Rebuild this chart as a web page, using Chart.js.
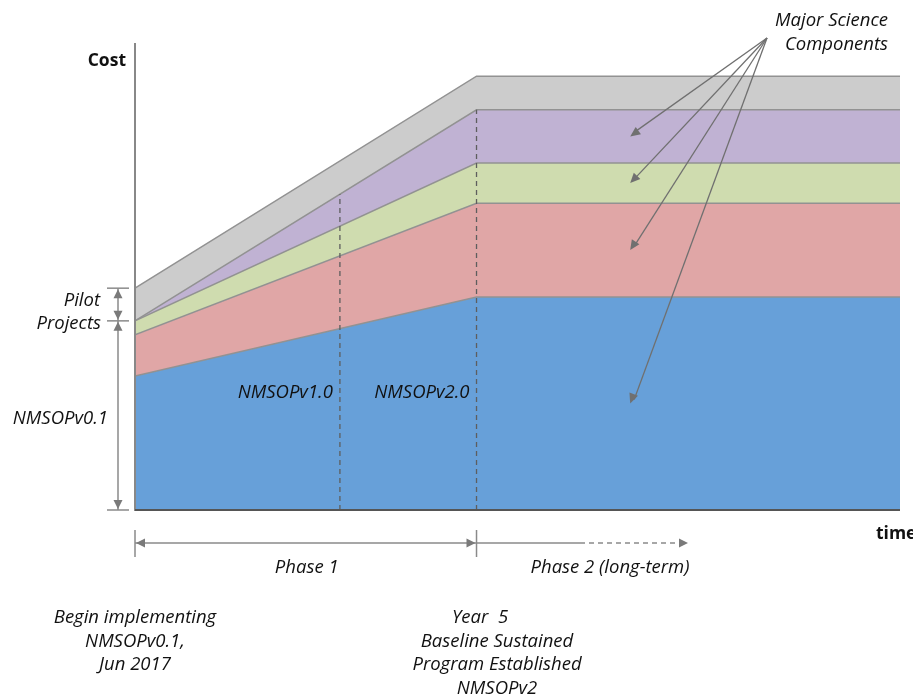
<!DOCTYPE html>
<html>
<head>
<meta charset="utf-8">
<script src="https://cdn.jsdelivr.net/npm/chart.js@4.4.1/dist/chart.umd.min.js"></script>
<style>
  body { margin: 0; background: #fff; }
  #wrap { width: 913px; height: 698px; }
</style>
</head>
<body>
<div id="wrap"><canvas id="costChart" width="913" height="698"></canvas></div>
<script>
// DATA (cost in arbitrary units, time in years from Jun 2017)
var timeYears      = [0, 5, 11.2];
var baseProgram    = [28.7, 45.6, 45.6];   // NMSOPv0.1 base (blue)
var scienceRed     = [8.8, 20.1, 20.1];
var scienceGreen   = [3.0, 8.6, 8.6];
var sciencePurple  = [0, 11.4, 11.4];
var pilotProjects  = [7.0, 7.2, 7.2];      // grey
var milestoneYears = [3, 5];               // NMSOPv1.0, NMSOPv2.0
var milestoneNames = ["NMSOPv1.0", "NMSOPv2.0"];
var arrowYear      = 7.25;                 // where the "Major Science Components" arrows land

var seriesList  = [baseProgram, scienceRed, scienceGreen, sciencePurple, pilotProjects];
var seriesNames = ["NMSOPv0.1", "Science 1", "Science 2", "Science 3", "Pilot Projects"];
var seriesFill  = ['#67a0d9', '#e0a6a6', '#cfdcaf', '#c0b2d3', '#cccccc'];

function pts(arr) {
    return arr.map(function(v, i) { return {x: timeYears[i], y: v}; });
}

// value of the stack top (first n series) at a given year
function stackAt(n, year) {
    var tot = 0;
    for (var s = 0; s < n; s++) {
        var a = seriesList[s], v = a[a.length - 1];
        for (var i = 0; i < timeYears.length - 1; i++) {
            if (year >= timeYears[i] && year <= timeYears[i + 1]) {
                var f = (year - timeYears[i]) / (timeYears[i + 1] - timeYears[i]);
                v = a[i] + f * (a[i + 1] - a[i]);
                break;
            }
        }
        tot += v;
    }
    return tot;
}

function arrowHead(ctx, x1, y1, x2, y2, len, half) {
    var ang = Math.atan2(y2 - y1, x2 - x1);
    ctx.beginPath();
    ctx.moveTo(x2, y2);
    ctx.lineTo(x2 - len * Math.cos(ang) + half * Math.sin(ang), y2 - len * Math.sin(ang) - half * Math.cos(ang));
    ctx.lineTo(x2 - len * Math.cos(ang) - half * Math.sin(ang), y2 - len * Math.sin(ang) + half * Math.cos(ang));
    ctx.closePath();
    ctx.fill();
}

function line(ctx, x1, y1, x2, y2) {
    ctx.beginPath();
    ctx.moveTo(x1, y1);
    ctx.lineTo(x2, y2);
    ctx.stroke();
}

var ITAL = 'italic 18.5px "Open Sans"';
var BOLD = 'bold 17.5px "Open Sans"';

var decorations = {
    id: 'decorations',
    afterDatasetsDraw: function(chart) {
        var ctx = chart.ctx;
        var xs = chart.scales.x, ys = chart.scales.y;
        var area = chart.chartArea;
        var x0 = xs.getPixelForValue(0);
        var x5 = xs.getPixelForValue(5);
        var yb = ys.getPixelForValue(0);

        ctx.save();
        // milestone dashed lines
        ctx.strokeStyle = '#5e5e5e';
        ctx.lineWidth = 1.3;
        ctx.setLineDash([5, 4]);
        milestoneYears.forEach(function(yr) {
            var px = xs.getPixelForValue(yr);
            line(ctx, px, yb, px, ys.getPixelForValue(stackAt(4, yr)));
        });
        ctx.setLineDash([]);

        // axes
        ctx.strokeStyle = '#888';
        ctx.lineWidth = 2;
        line(ctx, x0, area.top, x0, yb + 1);
        ctx.strokeStyle = '#555';
        line(ctx, x0, yb, area.right, yb);

        // dimension arrows on the left
        var ax = 118;
        var yPilotTop = ys.getPixelForValue(stackAt(5, 0));
        var yPilotBot = ys.getPixelForValue(stackAt(4, 0));
        ctx.strokeStyle = '#8a8a8a';
        ctx.fillStyle = '#7a7a7a';
        ctx.lineWidth = 1.5;
        [yPilotTop, yPilotBot, yb].forEach(function(y) { line(ctx, 107, y, 129, y); });
        line(ctx, ax, yPilotTop, ax, yPilotBot);
        line(ctx, ax, yPilotBot, ax, yb);
        arrowHead(ctx, ax, yPilotBot, ax, yPilotTop + 1, 9, 4.5);
        arrowHead(ctx, ax, yPilotTop, ax, yPilotBot - 1, 9, 4.5);
        arrowHead(ctx, ax, yb, ax, yPilotBot + 1, 9, 4.5);
        arrowHead(ctx, ax, yPilotBot, ax, yb - 1, 9, 4.5);

        // phase arrows
        var py = 543;
        line(ctx, x0, 530, x0, 557);
        line(ctx, x5, 530, x5, 557);
        line(ctx, x0, py, x5, py);
        arrowHead(ctx, x5, py, x0 + 1, py, 9, 4.5);
        arrowHead(ctx, x0, py, x5 - 1, py, 9, 4.5);
        line(ctx, x5, py, 580, py);
        ctx.setLineDash([5, 4]);
        line(ctx, 580, py, 680, py);
        ctx.setLineDash([]);
        arrowHead(ctx, 600, py, 688, py, 9, 4.5);

        // major science component arrows
        var ox = 767, oy = 38;
        var tx = xs.getPixelForValue(arrowYear);
        ctx.strokeStyle = '#707070';
        ctx.fillStyle = '#707070';
        ctx.lineWidth = 1.3;
        for (var s = 1; s <= 4; s++) {
            var mid = (stackAt(s - 1, arrowYear) + stackAt(s, arrowYear)) / 2;
            var ty = ys.getPixelForValue(mid);
            line(ctx, ox, oy, tx + 4, ty - 4);
            arrowHead(ctx, ox, oy, tx, ty, 10, 4.5);
        }

        // texts
        ctx.fillStyle = '#111';
        ctx.textBaseline = 'middle';
        ctx.font = BOLD;
        ctx.textAlign = 'right';
        ctx.fillText('Cost', 126, 61);
        ctx.textAlign = 'left';
        ctx.fillText('time', 876, 534);

        ctx.font = ITAL;
        ctx.textAlign = 'right';
        ctx.fillText('Pilot', 100, 301);
        ctx.fillText('Projects', 101, 324);
        ctx.fillText(seriesNames[0], 108, 419);
        ctx.fillText('Major Science', 888, 21);
        ctx.fillText('Components', 888, 45);
        milestoneYears.forEach(function(yr, i) {
            ctx.fillText(milestoneNames[i], xs.getPixelForValue(yr) - 7, 393);
        });

        ctx.textAlign = 'center';
        ctx.fillText('Phase 1', (x0 + x5) / 2 + 1, 568);
        ctx.fillText('Phase 2 (long-term)', 610, 568);

        ['Begin implementing', 'NMSOPv0.1,', 'Jun 2017'].forEach(function(t, i) {
            ctx.fillText(t, 135, 618 + i * 23.5);
        });
        ['Year  5', 'Baseline Sustained', 'Program Established', 'NMSOPv2'].forEach(function(t, i) {
            ctx.fillText(t, i === 0 ? 480 : 497, 618 + i * 23.5);
        });
        ctx.restore();
    }
};

function build() {
    var datasets = seriesList.map(function(arr, i) {
        return {
            label: seriesNames[i],
            data: pts(arr),
            backgroundColor: seriesFill[i],
            borderColor: '#929292',
            borderWidth: 1.5,
            pointRadius: 0,
            tension: 0,
            fill: i === 0 ? 'origin' : '-1'
        };
    });

    new Chart(document.getElementById('costChart'), {
        type: 'line',
        data: { datasets: datasets },
        options: {
            responsive: false,
            animation: false,
            layout: { padding: { left: 135, right: 13, top: 43, bottom: 188 } },
            plugins: { legend: { display: false }, tooltip: { enabled: false } },
            scales: {
                x: { type: 'linear', min: 0, max: timeYears[timeYears.length - 1], display: false },
                y: { stacked: true, min: 0, max: 100, display: false }
            }
        },
        plugins: [decorations]
    });
}

Promise.all([
    document.fonts.load(ITAL),
    document.fonts.load(BOLD)
]).then(build, build);
</script>
</body>
</html>
